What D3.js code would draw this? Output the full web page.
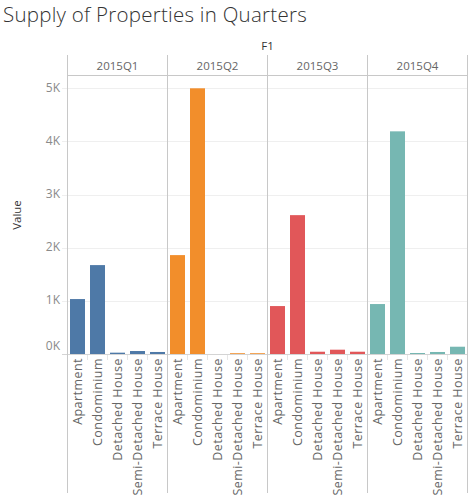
<!DOCTYPE html>
<html><head><meta charset="utf-8">
<script src="https://cdn.jsdelivr.net/npm/d3@7/dist/d3.min.js"></script>
<style>body{margin:0;background:#fff;} svg{display:block;}</style>
</head><body>
<svg id="c" width="475" height="500"></svg>
<script>
const quarters = ["2015Q1","2015Q2","2015Q3","2015Q4"];
const categories = ["Apartment","Condominium","Detached House","Semi-Detached House","Terrace House"];
const q1Values = [1034, 1673, 25, 56, 38];
const q2Values = [1861, 5000, 0, 15, 15];
const q3Values = [902, 2613, 43, 81, 43];
const q4Values = [940, 4190, 19, 38, 137];
const colors = ["#4e79a7","#f28e2b","#e15759","#76b7b2"];
const yTicks = [0,1000,2000,3000,4000,5000];

(function(){
const seriesValues = [q1Values,q2Values,q3Values,q4Values];
const font = "'Open Sans', sans-serif";
const svg = d3.select("#c");

const pLeft = 67.5, pRight = 467.5, pTop = 55, headerBottom = 75.5, base = 354, pBottom = 493;
const x0 = d3.scaleBand().domain(quarters).range([pLeft, pRight]);
const x1 = d3.scaleBand().domain(categories).range([0, x0.bandwidth()]).paddingInner(0.25).paddingOuter(0.125);
const y = d3.scaleLinear().domain([0,5000]).range([base, 88.3]);

svg.append("text").attr("x",3).attr("y",22).attr("font-family",font).attr("font-size",20.5)
  .attr("font-weight",300).attr("letter-spacing",0.25).attr("fill","#333").text("Supply of Properties in Quarters");
svg.append("text").attr("x",(pLeft+pRight)/2).attr("y",50).attr("text-anchor","middle")
  .attr("font-family",font).attr("font-size",11.5).attr("fill","#333").text("F1");

svg.append("g").selectAll("line").data(yTicks.slice(1)).join("line")
  .attr("x1",62).attr("x2",pRight).attr("y1",d=>Math.round(y(d))+0.5).attr("y2",d=>Math.round(y(d))+0.5)
  .attr("stroke","#efefef").attr("stroke-width",1);

svg.append("g").selectAll("text").data(yTicks).join("text")
  .attr("x",60).attr("y",d=>y(d)-(d===0?7:0)).attr("text-anchor","end").attr("dominant-baseline","middle")
  .attr("font-family",font).attr("font-size",12).attr("fill","#8a8a8a").text(d=>(d/1000)+"K");

svg.append("text").attr("transform","translate(21,215) rotate(-90)").attr("text-anchor","middle")
  .attr("font-family",font).attr("font-size",11.5).attr("fill","#333").text("Value");

quarters.forEach((q,i)=>{
  const g = svg.append("g").attr("transform",`translate(${x0(q)},0)`);
  g.selectAll("rect").data(categories.map((c,j)=>({c,v:seriesValues[i][j]}))).join("rect")
    .attr("x",d=>x1(d.c)).attr("width",x1.bandwidth())
    .attr("y",d=>y(d.v)).attr("height",d=>base-y(d.v)).attr("fill",colors[i]);
  g.selectAll("line.sep").data(categories.slice(1)).join("line").attr("class","sep")
    .attr("x1",d=>x1(d)-x1.step()*x1.paddingInner()/2).attr("x2",d=>x1(d)-x1.step()*x1.paddingInner()/2)
    .attr("y1",base).attr("y2",base+6).attr("stroke","#e6e6e6");
  g.selectAll("text").data(categories).join("text")
    .attr("transform",d=>`translate(${x1(d)+x1.bandwidth()/2+4.5},${base+4}) rotate(-90)`)
    .attr("text-anchor","end").attr("font-family",font).attr("font-size",12.5).attr("letter-spacing",0.45)
    .attr("fill","#666").text(d=>d);
  svg.append("text").attr("x",x0(q)+x0.bandwidth()/2).attr("y",70).attr("text-anchor","middle")
    .attr("font-family",font).attr("font-size",11.5).attr("fill","#666").text(q);
});

svg.append("line").attr("x1",62).attr("x2",pRight).attr("y1",base+0.5).attr("y2",base+0.5).attr("stroke","#d4d4d4");
svg.append("line").attr("x1",pLeft).attr("x2",pRight).attr("y1",headerBottom).attr("y2",headerBottom).attr("stroke","#c8c8c8");
svg.append("g").selectAll("line").data(quarters.map(q=>x0(q)).concat([pRight])).join("line")
  .attr("x1",d=>d).attr("x2",d=>d).attr("y1",pTop).attr("y2",pBottom).attr("stroke","#c8c8c8");
})();
</script>
</body></html>
